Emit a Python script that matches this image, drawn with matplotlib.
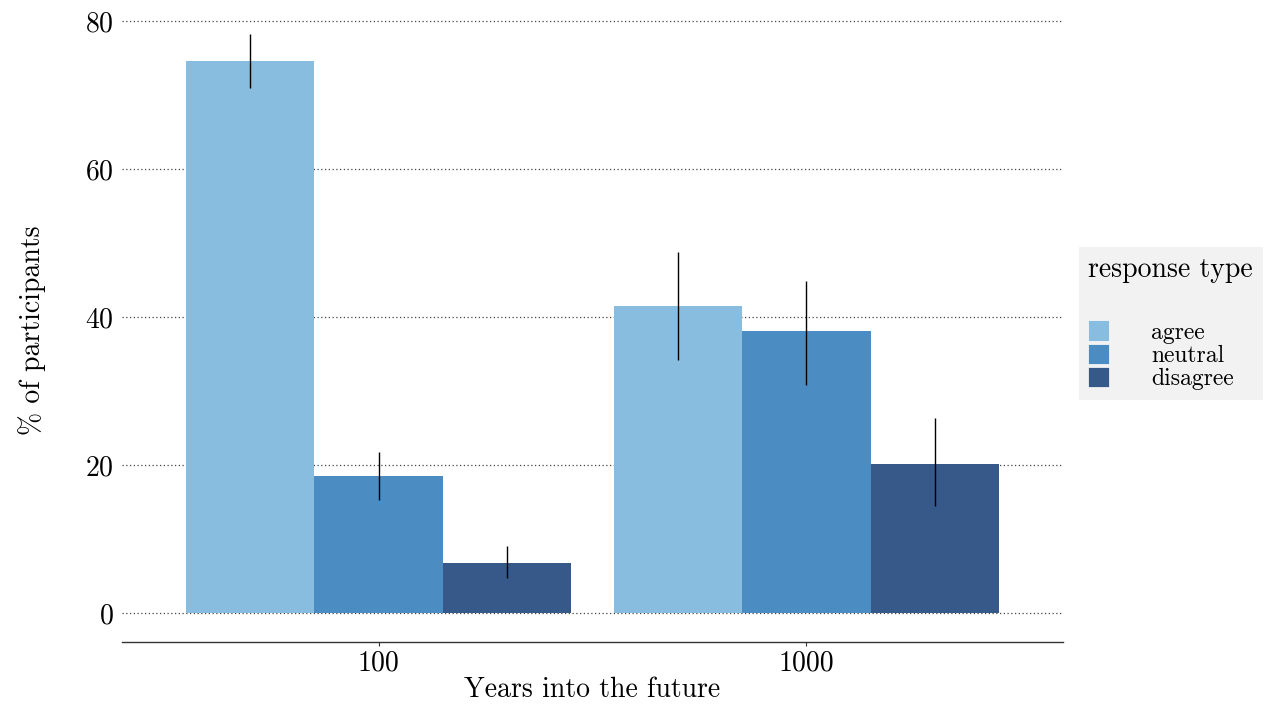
import matplotlib
matplotlib.use("Agg")
import matplotlib.pyplot as plt
import numpy as np
from matplotlib.patches import Patch

plt.rcParams['font.family'] = ['cmr10', 'DejaVu Serif']
plt.rcParams['axes.formatter.use_mathtext'] = True
plt.rcParams['mathtext.fontset'] = 'cm'

groups = ['100', '1000']
responses = ['agree', 'neutral', 'disagree']
values = {
    'agree':    [74.7, 41.5],
    'neutral':  [18.5, 38.2],
    'disagree': [6.8, 20.2],
}
err_low = {
    'agree':    [71.0, 34.2],
    'neutral':  [15.3, 30.9],
    'disagree': [4.7, 14.5],
}
err_high = {
    'agree':    [78.3, 48.8],
    'neutral':  [21.8, 44.9],
    'disagree': [9.1, 26.4],
}
colors = ['#89bddf', '#4b8cc3', '#375989']

fig = plt.figure(figsize=(12.8, 7.2), dpi=100)
ax = fig.add_axes([0.0953, 0.1083, 0.7352, 0.867])

x = np.arange(len(groups))
w = 0.3
for i, (r, c) in enumerate(zip(responses, colors)):
    pos = x + (i - 1) * w
    v = np.array(values[r])
    lo = v - np.array(err_low[r])
    hi = np.array(err_high[r]) - v
    ax.bar(pos, v, width=w, color=c, zorder=2, linewidth=0)
    ax.errorbar(pos, v, yerr=[lo, hi], fmt='none', ecolor='black', elinewidth=1, capsize=0, zorder=3)

ax.set_xlim(-0.6, 1.6)
ax.set_ylim(-3.9, 80.5)
ax.set_yticks([0, 20, 40, 60, 80])
ax.set_xticks(x)
ax.set_xticklabels(groups)
ax.yaxis.grid(True, linestyle=(0, (1, 2)), color='#444444', linewidth=0.9, zorder=0)
ax.set_axisbelow(True)
for s in ['left', 'right', 'top']:
    ax.spines[s].set_visible(False)
ax.spines['bottom'].set_color('#333333')
ax.spines['bottom'].set_linewidth(1.0)
ax.tick_params(axis='y', length=0, labelsize=20, pad=6)
ax.tick_params(axis='x', length=3, labelsize=20, color='#333333', pad=3)
ax.set_xlabel('Years into the future', fontsize=20, labelpad=0)
ax.set_ylabel('% of participants', fontsize=20, labelpad=28)

handles = [Patch(facecolor=c, edgecolor='white', linewidth=0.5) for c in colors]
leg = fig.legend(handles, responses, title='response type', loc='center left',
                 bbox_to_anchor=(0.843, 0.551), frameon=True, fontsize=17,
                 title_fontsize=20, handlelength=0.85, handleheight=0.95,
                 handletextpad=1.8, labelspacing=0.0, borderpad=0.4,
                 borderaxespad=0, alignment='left')
leg.get_frame().set_facecolor('#efefef')
leg.get_frame().set_edgecolor('none')
leg.get_frame().set_boxstyle('square', pad=0)
leg._legend_box.sep = 27

fig.savefig('out.png', dpi=100)
